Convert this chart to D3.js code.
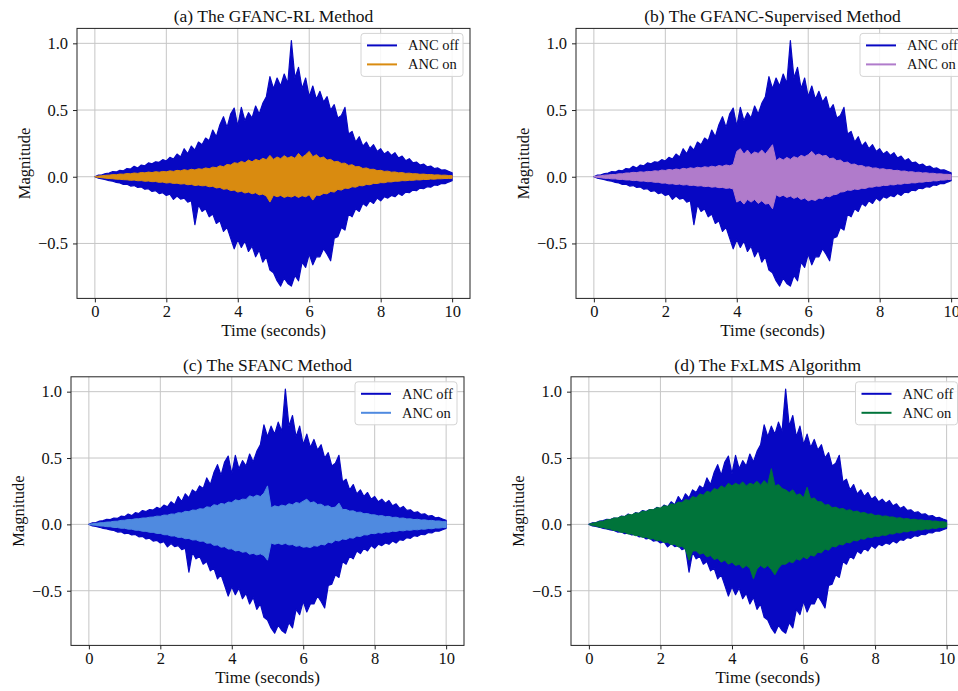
<!DOCTYPE html>
<html>
<head>
<meta charset="utf-8">
<script src="https://cdn.jsdelivr.net/npm/d3@7"></script>
<style>
html, body { margin: 0; padding: 0; background: #fff; overflow: hidden; }
svg { display: block; font-family: "Liberation Serif", "Times New Roman", serif; }
</style>
</head>
<body>
<svg id="chart" width="958" height="691"></svg>
<script>
// sample times, one envelope value every 0.1 s
const times = d3.range(101).map(i => i / 10);

// ANC off (same recording in all four panels): upper / lower envelope
const offMax = [0, .012, .014, .024, .028, .038, .036, .048, .045, .062,
  .058, .078, .066, .088, .082, .104, .097, .112, .108, .128,
  .118, .145, .132, .17, .148, .21, .172, .23, .2, .26,
  .24, .29, .27, .35, .3, .39, .45, .37, .47, .515,
  .38, .52, .42, .48, .44, .53, .47, .55, .6, .75,
  .66, .74, .68, .77, .7, 1.02, .74, .82, .66, .74,
  .6, .68, .58, .64, .56, .6, .5, .54, .44, .46,
  .52, .32, .34, .26, .3, .23, .26, .21, .24, .19,
  .21, .17, .19, .16, .18, .14, .155, .12, .135, .105,
  .11, .088, .095, .075, .08, .062, .066, .05, .052, .04,
  .03];
const offMin = [0, -.011, -.016, -.022, -.03, -.034, -.042, -.046, -.058, -.056,
  -.07, -.066, -.08, -.076, -.094, -.09, -.11, -.104, -.126, -.12,
  -.14, -.13, -.17, -.145, -.168, -.16, -.19, -.18, -.36, -.21,
  -.26, -.24, -.3, -.28, -.35, -.33, -.41, -.38, -.46, -.54,
  -.47, -.53, -.48, -.56, -.52, -.6, -.55, -.64, -.6, -.7,
  -.72, -.78, -.82, -.76, -.8, -.82, -.74, -.78, -.64, -.68,
  -.58, -.66, -.6, -.6, -.54, -.58, -.63, -.46, -.45, -.38,
  -.4, -.28, -.3, -.24, -.26, -.2, -.22, -.18, -.2, -.16,
  -.18, -.15, -.16, -.14, -.15, -.125, -.14, -.115, -.12, -.1,
  -.105, -.085, -.09, -.075, -.078, -.062, -.064, -.05, -.052, -.04,
  -.03];

// ANC on, (a) GFANC-RL
const onMaxA = [0, .005, .007, .011, .012, .016, .015, .02, .019, .024,
  .022, .028, .025, .032, .029, .035, .031, .038, .034, .04,
  .037, .044, .04, .048, .044, .053, .047, .056, .051, .06,
  .056, .066, .06, .072, .068, .082, .075, .092, .088, .105,
  .1, .115, .105, .125, .112, .13, .12, .138, .128, .16,
  .13, .148, .135, .158, .14, .152, .138, .175, .145, .165,
  .19, .15, .165, .14, .148, .125, .13, .112, .115, .1,
  .102, .085, .09, .075, .076, .062, .066, .055, .056, .046,
  .048, .04, .042, .034, .036, .029, .031, .025, .027, .022,
  .023, .018, .02, .016, .017, .013, .014, .011, .012, .009,
  .008];
const onMinA = [0, -.005, -.007, -.011, -.013, -.015, -.018, -.019, -.022, -.023,
  -.027, -.025, -.03, -.029, -.034, -.032, -.037, -.036, -.042, -.04,
  -.047, -.044, -.05, -.048, -.055, -.052, -.06, -.057, -.066, -.062,
  -.068, -.066, -.075, -.072, -.084, -.08, -.094, -.09, -.104, -.1,
  -.115, -.108, -.122, -.115, -.128, -.12, -.136, -.13, -.145, -.19,
  -.138, -.15, -.14, -.155, -.145, -.152, -.14, -.155, -.142, -.15,
  -.135, -.175, -.138, -.14, -.125, -.128, -.11, -.115, -.095, -.1,
  -.085, -.088, -.075, -.078, -.066, -.068, -.058, -.06, -.05, -.051,
  -.044, -.045, -.038, -.039, -.033, -.034, -.029, -.03, -.026, -.027,
  -.023, -.024, -.02, -.021, -.017, -.018, -.015, -.015, -.013, -.013,
  -.012];

// ANC on, (b) GFANC-Supervised
const onMaxB = [0, .005, .007, .012, .013, .017, .017, .022, .022, .028,
  .028, .033, .031, .037, .034, .04, .038, .045, .042, .05,
  .047, .055, .05, .058, .053, .063, .058, .067, .062, .071,
  .066, .075, .07, .079, .073, .084, .078, .088, .082, .092,
  .19, .21, .17, .2, .165, .185, .175, .2, .17, .205,
  .24, .12, .14, .125, .145, .13, .15, .14, .16, .15,
  .165, .19, .16, .17, .155, .16, .135, .14, .12, .125,
  .105, .11, .092, .095, .082, .084, .072, .074, .064, .066,
  .057, .06, .052, .054, .046, .048, .041, .043, .036, .038,
  .032, .034, .028, .03, .025, .026, .021, .022, .018, .018,
  .015];
const onMinB = [0, -.005, -.007, -.012, -.012, -.016, -.016, -.02, -.02, -.024,
  -.024, -.029, -.028, -.033, -.032, -.037, -.036, -.042, -.041, -.048,
  -.047, -.054, -.052, -.058, -.055, -.062, -.059, -.066, -.063, -.07,
  -.067, -.074, -.071, -.078, -.075, -.082, -.08, -.087, -.084, -.092,
  -.19, -.175, -.205, -.17, -.19, -.17, -.2, -.18, -.205, -.2,
  -.24, -.135, -.15, -.138, -.155, -.145, -.162, -.15, -.17, -.16,
  -.18, -.17, -.178, -.16, -.165, -.145, -.15, -.135, -.132, -.115,
  -.112, -.1, -.102, -.092, -.096, -.086, -.088, -.077, -.078, -.07,
  -.072, -.064, -.066, -.059, -.061, -.054, -.056, -.049, -.05, -.045,
  -.046, -.04, -.041, -.035, -.036, -.03, -.031, -.025, -.025, -.021,
  -.02];

// ANC on, (c) SFANC
const onMaxC = [0, .005, .007, .012, .013, .017, .018, .023, .024, .03,
  .031, .036, .036, .042, .042, .048, .048, .054, .055, .062,
  .061, .07, .069, .078, .077, .088, .086, .098, .096, .108,
  .106, .118, .115, .132, .128, .148, .142, .158, .152, .168,
  .165, .185, .178, .19, .188, .215, .205, .22, .21, .235,
  .29, .125, .14, .132, .145, .138, .155, .148, .165, .158,
  .175, .19, .162, .17, .15, .152, .135, .14, .125, .13,
  .16, .112, .112, .1, .102, .09, .092, .08, .082, .072,
  .072, .064, .066, .058, .06, .052, .054, .046, .048, .041,
  .042, .036, .038, .032, .034, .029, .03, .025, .026, .021,
  .02];
const onMinC = [0, -.005, -.007, -.012, -.013, -.017, -.018, -.023, -.024, -.029,
  -.029, -.036, -.036, -.044, -.044, -.052, -.052, -.06, -.06, -.068,
  -.068, -.078, -.078, -.088, -.087, -.098, -.097, -.108, -.106, -.118,
  -.116, -.128, -.126, -.142, -.14, -.158, -.155, -.172, -.168, -.186,
  -.184, -.2, -.196, -.21, -.205, -.225, -.218, -.23, -.222, -.235,
  -.27, -.14, -.15, -.142, -.152, -.143, -.155, -.152, -.165, -.16,
  -.172, -.168, -.175, -.16, -.165, -.15, -.155, -.135, -.14, -.12,
  -.125, -.11, -.114, -.1, -.104, -.088, -.092, -.078, -.08, -.068,
  -.07, -.062, -.066, -.057, -.059, -.051, -.053, -.046, -.049, -.042,
  -.045, -.039, -.041, -.035, -.037, -.031, -.033, -.027, -.028, -.024,
  -.023];

// ANC on, (d) FxLMS
const onMaxD = [0, .009, .013, .022, .024, .035, .036, .048, .048, .06,
  .06, .074, .072, .086, .084, .1, .096, .112, .11, .126,
  .123, .14, .136, .155, .15, .168, .164, .188, .18, .21,
  .2, .23, .22, .25, .24, .27, .26, .29, .275, .31,
  .29, .31, .295, .32, .29, .31, .3, .325, .295, .33,
  .3, .42, .29, .3, .27, .26, .24, .26, .22, .23,
  .2, .28, .19, .2, .17, .17, .145, .15, .125, .13,
  .115, .12, .105, .11, .095, .1, .085, .09, .076, .08,
  .066, .07, .06, .064, .055, .056, .047, .05, .041, .044,
  .036, .039, .032, .034, .028, .03, .024, .025, .019, .02,
  .015];
const onMinD = [0, -.009, -.012, -.021, -.023, -.033, -.035, -.046, -.048, -.06,
  -.06, -.073, -.072, -.085, -.084, -.098, -.096, -.11, -.108, -.122,
  -.12, -.136, -.135, -.152, -.15, -.17, -.165, -.19, -.27, -.2,
  -.2, -.225, -.215, -.245, -.235, -.265, -.255, -.285, -.27, -.3,
  -.285, -.31, -.3, -.33, -.31, -.33, -.41, -.335, -.31, -.33,
  -.31, -.34, -.38, -.33, -.3, -.3, -.28, -.29, -.26, -.27,
  -.245, -.26, -.23, -.24, -.21, -.215, -.185, -.195, -.165, -.17,
  -.15, -.155, -.135, -.14, -.12, -.125, -.108, -.112, -.095, -.1,
  -.088, -.092, -.08, -.083, -.07, -.073, -.062, -.065, -.054, -.057,
  -.046, -.05, -.04, -.043, -.034, -.037, -.028, -.031, -.022, -.025,
  -.018];

const titles = ["(a) The GFANC-RL Method", "(b) The GFANC-Supervised Method",
  "(c) The SFANC Method", "(d) The FxLMS Algorithm"];
const legendLabels = ["ANC off", "ANC on"];
const xTicks = [0, 2, 4, 6, 8, 10];
const yTicks = [-0.5, 0, 0.5, 1.0];

const offColor = "#0707c3";
const onColors = ["#d98b10", "#b07bcb", "#4f8ae0", "#00743a"];

const panels = [
  { title: titles[0], max: onMaxA, min: onMinA, color: onColors[0] },
  { title: titles[1], max: onMaxB, min: onMinB, color: onColors[1] },
  { title: titles[2], max: onMaxC, min: onMinC, color: onColors[2] },
  { title: titles[3], max: onMaxD, min: onMinD, color: onColors[3] }
];

// plot boxes (the right column runs off the page edge, as in the figure)
const boxes = [
  { x0: 77, x1: 470, y0: 28.4, y1: 298.4 },
  { x0: 576, x1: 969, y0: 28.4, y1: 298.4 },
  { x0: 71, x1: 464, y0: 376.8, y1: 645.4 },
  { x0: 571, x1: 964.5, y0: 376.8, y1: 645.4 }
];

const svg = d3.select("#chart");
const defs = svg.append("defs");

panels.forEach((p, k) => {
  const b = boxes[k];
  const x = d3.scaleLinear().domain([-0.5, 10.5]).range([b.x0, b.x1]);
  const y = d3.scaleLinear().domain([-0.912, 1.112]).range([b.y1, b.y0]);
  const g = svg.append("g");

  defs.append("clipPath").attr("id", "clip" + k)
    .append("rect")
    .attr("x", b.x0).attr("y", b.y0)
    .attr("width", b.x1 - b.x0).attr("height", b.y1 - b.y0);

  // grid
  const grid = g.append("g").attr("stroke", "#c6c6c6").attr("stroke-width", 1);
  grid.selectAll(".gx").data(xTicks).join("line")
    .attr("x1", d => x(d)).attr("x2", d => x(d))
    .attr("y1", b.y0).attr("y2", b.y1);
  grid.selectAll(".gy").data(yTicks).join("line")
    .attr("x1", b.x0).attr("x2", b.x1)
    .attr("y1", d => y(d)).attr("y2", d => y(d));

  const band = (mx, mn) => d3.area()
    .x((d, i) => x(times[i]))
    .y0((d, i) => y(mn[i]))
    .y1((d, i) => y(mx[i]))(times);

  const plot = g.append("g").attr("clip-path", "url(#clip" + k + ")");
  plot.append("path")
    .attr("d", band(offMax, offMin))
    .attr("fill", offColor)
    .attr("stroke", offColor)
    .attr("stroke-width", 1.2)
    .attr("stroke-linejoin", "round");
  plot.append("path")
    .attr("d", band(p.max, p.min))
    .attr("fill", p.color)
    .attr("stroke", p.color)
    .attr("stroke-width", 1)
    .attr("stroke-linejoin", "round");

  // frame
  g.append("rect")
    .attr("x", b.x0).attr("y", b.y0)
    .attr("width", b.x1 - b.x0).attr("height", b.y1 - b.y0)
    .attr("fill", "none").attr("stroke", "#222").attr("stroke-width", 1);

  // axes
  const xa = g.append("g").attr("transform", `translate(0,${b.y1})`)
    .call(d3.axisBottom(x).tickValues(xTicks).tickSize(4).tickPadding(2.5).tickFormat(d3.format("d")));
  const ya = g.append("g").attr("transform", `translate(${b.x0},0)`)
    .call(d3.axisLeft(y).tickValues(yTicks).tickSize(4).tickPadding(5).tickFormat(d3.format(".1f")));
  [xa, ya].forEach(a => {
    a.select(".domain").remove();
    a.selectAll("line").attr("stroke", "#222");
    a.selectAll("text").attr("fill", "#111").style("font-size", "16.5px").style("font-family", "Liberation Serif");
  });

  // title and labels
  g.append("text")
    .attr("x", (b.x0 + b.x1) / 2).attr("y", b.y0 - 6)
    .attr("text-anchor", "middle")
    .style("font-size", "17.5px").attr("fill", "#111")
    .text(p.title);
  g.append("text")
    .attr("x", x(5)).attr("y", b.y1 + 37.5)
    .attr("text-anchor", "middle")
    .style("font-size", "17px").attr("fill", "#111")
    .text("Time (seconds)");
  g.append("text")
    .attr("transform", `translate(${b.x0 - 53},${(b.y0 + b.y1) / 2}) rotate(-90)`)
    .attr("text-anchor", "middle")
    .attr("dominant-baseline", "central")
    .style("font-size", "16.5px").attr("fill", "#111")
    .text("Magnitude");

  // legend
  const lw = 102, lh = 43;
  const lg = g.append("g").attr("transform", `translate(${b.x1 - 7 - lw},${b.y0 + 5})`);
  lg.append("rect")
    .attr("width", lw).attr("height", lh).attr("rx", 3)
    .attr("fill", "#fff").attr("fill-opacity", 0.85)
    .attr("stroke", "#d4d4d4").attr("stroke-width", 1);
  const items = [offColor, p.color];
  items.forEach((c, i) => {
    const yy = 12 + i * 19;
    lg.append("line")
      .attr("x1", 6).attr("x2", 36).attr("y1", yy).attr("y2", yy)
      .attr("stroke", c).attr("stroke-width", 2);
    lg.append("text")
      .attr("x", 47).attr("y", yy)
      .attr("dominant-baseline", "central")
      .style("font-size", "14.5px").attr("fill", "#111")
      .text(legendLabels[i]);
  });
});
</script>
</body>
</html>
